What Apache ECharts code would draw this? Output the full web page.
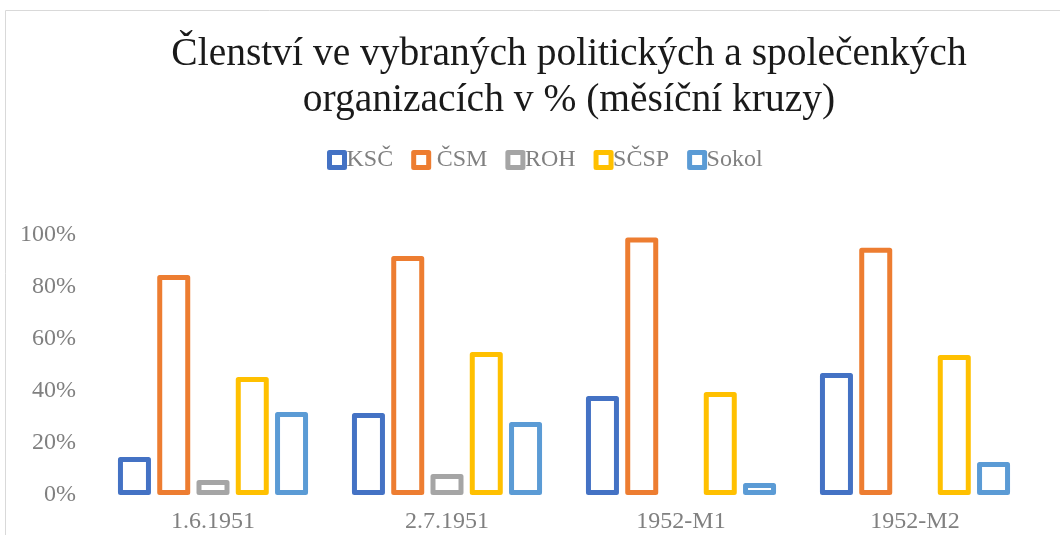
<!DOCTYPE html>
<html>
<head>
<meta charset="utf-8">
<script src="https://cdn.jsdelivr.net/npm/echarts@6/dist/echarts.min.js"></script>
<style>
  html, body { margin: 0; padding: 0; background: #fff; }
  #chart { width: 1060px; height: 535px; }
</style>
</head>
<body>
<div id="chart"></div>
<script>
// data (share of members, %)
const categories = ['1.6.1951', '2.7.1951', '1952-M1', '1952-M2'];
const ksc   = [14.6, 31.5, 38.1, 46.9];
const csm   = [84.6, 91.9, 99.0, 95.1];
const roh   = [5.8, 8.1, null, null];
const scsp  = [45.4, 55.0, 39.6, 53.8];
const sokol = [31.9, 28.1, 4.6, 12.7];
const yTicks = [0, 20, 40, 60, 80, 100];

const seriesNames = ['KSČ', ' ČSM', 'ROH', 'SČSP', 'Sokol'];
const seriesData = [ksc, csm, roh, scsp, sokol];
const colors = ['#4472C4', '#ED7D31', '#A5A5A5', '#FFC000', '#5B9BD5'];

const font = '"Liberation Serif", "DejaVu Serif", serif';

let series = seriesNames.map(function (name, i) {
    return {
        name: name,
        type: 'bar',
        data: seriesData[i],
        barWidth: 33,
        barGap: '19%',
        itemStyle: {
            color: '#ffffff',
            borderColor: colors[i],
            borderWidth: 5,
            borderJoin: 'round'
        },
        emphasis: { disabled: true }
    };
});

let option = {
    animation: false,
    textStyle: { fontFamily: font },
    title: {
        text: 'Členství ve vybraných politických a společenkých\norganizacích v % (měsíční kruzy)',
        left: 564,
        textAlign: 'center',
        top: 27,
        textStyle: {
            fontFamily: font,
            fontSize: 39.5,
            fontWeight: 'normal',
            color: '#1a1a1a',
            lineHeight: 46
        }
    },
    legend: {
        top: 143,
        left: 322,
        itemWidth: 15,
        itemHeight: 15,
        itemGap: 18,
        icon: 'rect',
        itemStyle: { borderWidth: 5 },
        textStyle: {
            fontFamily: font,
            fontSize: 24,
            color: '#808080',
            padding: [0, 0, 0, -3]
        },
        data: seriesNames
    },
    grid: {
        left: 96,
        right: 28,
        top: 235,
        bottom: 40
    },
    xAxis: {
        type: 'category',
        data: categories,
        axisLine: { show: false },
        axisTick: { show: false },
        axisLabel: {
            fontFamily: font,
            fontSize: 24,
            color: '#808080',
            margin: 15
        }
    },
    yAxis: {
        type: 'value',
        min: yTicks[0],
        max: yTicks[yTicks.length - 1],
        interval: 20,
        splitLine: { show: false },
        axisLine: { show: false },
        axisTick: { show: false },
        axisLabel: {
            fontFamily: font,
            fontSize: 24,
            color: '#808080',
            margin: 20,
            formatter: '{value}%'
        }
    },
    graphic: [{
        type: 'rect',
        silent: true,
        shape: { x: 5.5, y: 10.5, width: 1100, height: 600 },
        style: { fill: 'none', stroke: '#d9d9d9', lineWidth: 1 }
    }],
    series: series
};

let myChart = echarts.init(document.getElementById('chart'));
myChart.setOption(option);
</script>
</body>
</html>
